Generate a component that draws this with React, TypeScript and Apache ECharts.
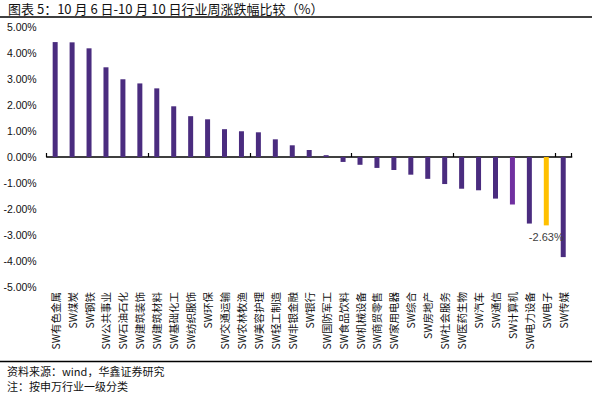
import React, { useEffect, useRef } from "react";
import * as echarts from "echarts";

const industries: string[] = [
  "SW有色金属", "SW煤炭", "SW钢铁", "SW公共事业", "SW石油石化", "SW建筑装饰", "SW建筑材料",
  "SW基础化工", "SW纺织服饰", "SW环保", "SW交通运输", "SW农林牧渔", "SW美容护理", "SW轻工制造",
  "SW非银金融", "SW银行", "SW国防军工", "SW食品饮料", "SW机械设备", "SW商贸零售", "SW家用电器",
  "SW综合", "SW房地产", "SW社会服务", "SW医药生物", "SW汽车", "SW通信", "SW计算机",
  "SW电力设备", "SW电子", "SW传媒",
];

const weeklyChange: number[] = [
  4.42, 4.41, 4.18, 3.45, 2.99, 2.83, 2.64,
  1.95, 1.57, 1.45, 1.07, 0.99, 0.95, 0.68,
  0.45, 0.27, 0.07, -0.19, -0.3, -0.42, -0.5,
  -0.68, -0.84, -1.04, -1.22, -1.28, -1.6, -1.83,
  -2.56, -2.63, -3.85,
];

const yTicks: number[] = [-5, -4, -3, -2, -1, 0, 1, 2, 3, 4, 5];

const titleText = "图表 5：10 月 6 日-10 月 10 日行业周涨跌幅比较（%）";
const sourceText = "资料来源：wind，华鑫证券研究";
const noteText = "注：按申万行业一级分类";

const highlightPurple = "SW计算机";
const highlightGold = "SW电子";

const CJK = "'Noto Sans CJK SC', 'Noto Sans', sans-serif";

export default function App() {
  const ref = useRef<HTMLDivElement>(null);

  useEffect(() => {
    if (!ref.current) return;
    const chart = echarts.init(ref.current, undefined, { renderer: "svg" });

    const data = industries.map((name, i) => {
      const item: any = { value: weeklyChange[i] };
      if (name === highlightPurple) item.itemStyle = { color: "#7030a0" };
      if (name === highlightGold) {
        item.itemStyle = { color: "#ffc000" };
        item.label = {
          show: true,
          position: "bottom",
          distance: 6,
          formatter: (p: any) => p.value.toFixed(2) + "%",
          color: "#404040",
          fontSize: 11,
          fontFamily: "'Liberation Sans', sans-serif",
        };
      }
      return item;
    });

    chart.setOption({
      animation: false,
      backgroundColor: "#ffffff",
      grid: { left: 46.7, right: 20.3, top: 27, bottom: 111, containLabel: false },
      xAxis: [
        {
          type: "category",
          data: industries,
          boundaryGap: true,
          axisLine: { show: true, onZero: true, lineStyle: { color: "#000", width: 1.5 } },
          axisTick: { show: true, inside: true, length: 4, alignWithLabel: false, lineStyle: { color: "#000", width: 1.2 } },
          axisLabel: { show: false },
          splitLine: { show: false },
        },
        {
          type: "category",
          data: industries,
          position: "bottom",
          boundaryGap: true,
          axisLine: { show: false, onZero: false },
          axisTick: { show: false },
          splitLine: { show: false },
          axisLabel: {
            show: true,
            interval: 0,
            rotate: 90,
            margin: 5,
            fontSize: 10.5,
            color: "#111",
            fontFamily: CJK,
          },
        },
      ],
      yAxis: {
        type: "value",
        min: yTicks[0],
        max: yTicks[yTicks.length - 1],
        interval: 1,
        axisLine: { show: false },
        axisTick: { show: false },
        splitLine: { show: false },
        axisLabel: {
          margin: 10,
          fontSize: 10.5,
          color: "#111",
          fontFamily: "'Liberation Sans', sans-serif",
          formatter: (v: number) => v.toFixed(2) + "%",
        },
      },
      series: [
        {
          type: "bar",
          xAxisIndex: 0,
          data,
          barWidth: 5,
          itemStyle: { color: "#4a2c7f" },
        },
      ],
      graphic: [
        {
          type: "text",
          left: 8,
          top: 2,
          style: { text: titleText, font: `13px ${CJK}`, fill: "#111" },
        },
        {
          type: "line",
          shape: { x1: 0, y1: 17, x2: 592, y2: 17 },
          style: { stroke: "#000", lineWidth: 1.5 },
        },
        {
          type: "line",
          shape: { x1: 0, y1: 361.5, x2: 592, y2: 361.5 },
          style: { stroke: "#000", lineWidth: 1.5 },
        },
        {
          type: "text",
          left: 7,
          top: 365,
          style: { text: sourceText, font: `11px ${CJK}`, fill: "#111" },
        },
        {
          type: "text",
          left: 7,
          top: 380,
          style: { text: noteText, font: `11px ${CJK}`, fill: "#111" },
        },
      ],
    });

    return () => chart.dispose();
  }, []);

  return (
    <div
      ref={ref}
      style={{ position: "absolute", left: 0, top: 0, width: 592, height: 398 }}
    />
  );
}
